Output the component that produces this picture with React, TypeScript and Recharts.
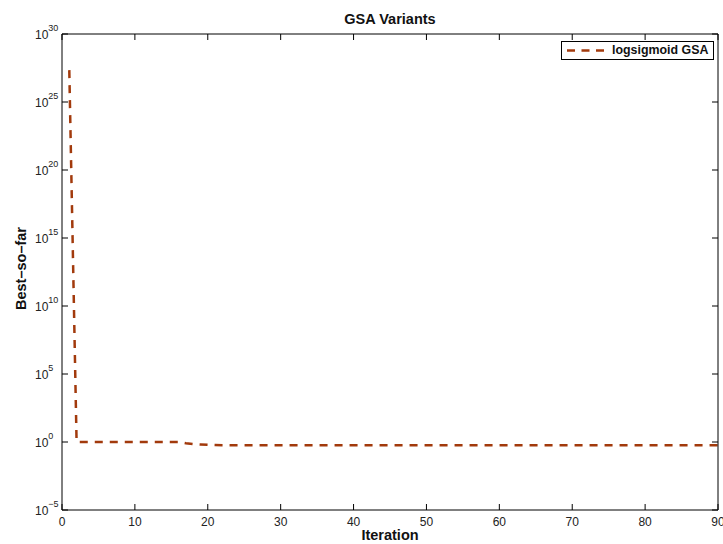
import { LineChart, Line, XAxis, YAxis } from 'recharts'

// best-so-far value at each iteration (iteration = index + 1)
const bestSoFar = [
  2.2e27, 1.02, 1.02, 1.02, 1.02, 1.02, 1.02, 1.02, 1.02, 1.02,
  1.02, 1.02, 1.02, 1.02, 1.02, 1.02, 0.8, 0.7, 0.66, 0.62,
  0.6, 0.58, 0.57, 0.57, 0.57, 0.57, 0.57, 0.57, 0.57, 0.57,
  0.57, 0.57, 0.57, 0.57, 0.57, 0.57, 0.57, 0.57, 0.57, 0.57,
  0.57, 0.57, 0.57, 0.57, 0.57, 0.57, 0.57, 0.57, 0.57, 0.57,
  0.57, 0.57, 0.57, 0.57, 0.57, 0.57, 0.57, 0.57, 0.57, 0.57,
  0.57, 0.57, 0.57, 0.57, 0.57, 0.57, 0.57, 0.57, 0.57, 0.57,
  0.57, 0.57, 0.57, 0.57, 0.57, 0.57, 0.57, 0.57, 0.57, 0.57,
  0.57, 0.57, 0.57, 0.57, 0.57, 0.57, 0.57, 0.57, 0.57, 0.57,
]
const xTicks = [0, 10, 20, 30, 40, 50, 60, 70, 80, 90]
const yTicks = [1e-5, 1, 1e5, 1e10, 1e15, 1e20, 1e25, 1e30]

const title = 'GSA Variants'
const xLabel = 'Iteration'
const yLabel = 'Best–so–far'
const seriesName = 'logsigmoid GSA'

const data = bestSoFar.map((v, i) => ({ iter: i + 1, best: v }))

const FONT = '"Liberation Sans", Arial, Helvetica, sans-serif'
const LINE_COLOR = '#a23a0c'

const BottomTick = ({ x, y, payload }: any) => (
  <g>
    <line x1={x} x2={x} y1={y} y2={y - 6} stroke="#000" />
    <text x={x} y={y + 16} textAnchor="middle" fontSize={12} fill="#222" fontFamily={FONT}>
      {payload.value}
    </text>
  </g>
)

const TopTick = ({ x, y }: any) => <line x1={x} x2={x} y1={y} y2={y + 6} stroke="#000" />

const LeftTick = ({ x, y, payload }: any) => {
  const exp = Math.round(Math.log10(payload.value))
  return (
    <g>
      <line x1={x} x2={x + 6} y1={y} y2={y} stroke="#000" />
      <text x={x - 27} y={y + 4.5} textAnchor="start" fontSize={12} fill="#222" fontFamily={FONT}>
        <tspan>10</tspan>
        <tspan dy={-8} fontSize={9}>{exp < 0 ? '\u2212' + Math.abs(exp) : exp}</tspan>
      </text>
    </g>
  )
}

const RightTick = ({ x, y }: any) => <line x1={x} x2={x - 6} y1={y} y2={y} stroke="#000" />

export default function App() {
  return (
    <div style={{ position: 'absolute', left: 0, top: 0, width: 723, height: 544, fontFamily: FONT }}>
      <LineChart width={723} height={544} data={data} margin={{ top: 33, right: 4, bottom: 33, left: 61 }}>
        <XAxis
          xAxisId="bottom" dataKey="iter" type="number" domain={[0, 90]} ticks={xTicks}
          height={1} tickSize={0} tickMargin={0} tickLine={false} tick={<BottomTick />}
          axisLine={{ stroke: '#000' }} interval={0}
        />
        <XAxis
          xAxisId="top" orientation="top" dataKey="iter" type="number" domain={[0, 90]} ticks={xTicks}
          height={1} tickSize={0} tickMargin={0} tickLine={false} tick={<TopTick />}
          axisLine={{ stroke: '#000' }} interval={0}
        />
        <YAxis
          yAxisId="left" scale="log" domain={[1e-5, 1e30]} ticks={yTicks} allowDataOverflow
          width={1} tickSize={0} tickMargin={0} tickLine={false} tick={<LeftTick />}
          axisLine={{ stroke: '#000' }} interval={0}
        />
        <YAxis
          yAxisId="right" orientation="right" scale="log" domain={[1e-5, 1e30]} ticks={yTicks} allowDataOverflow
          width={1} tickSize={0} tickMargin={0} tickLine={false} tick={<RightTick />}
          axisLine={{ stroke: '#000' }} interval={0}
        />
        <Line
          xAxisId="bottom" yAxisId="left" type="linear" dataKey="best" stroke={LINE_COLOR}
          strokeWidth={2.5} strokeDasharray="8 7" dot={false} isAnimationActive={false}
        />
      </LineChart>
      <div style={{ position: 'absolute', left: 62, width: 656, top: 11, lineHeight: '17px', textAlign: 'center', fontWeight: 'bold', fontSize: 14.5, color: '#111' }}>
        {title}
      </div>
      <div style={{ position: 'absolute', left: 62, width: 656, top: 527, lineHeight: '17px', textAlign: 'center', fontWeight: 'bold', fontSize: 14.5, color: '#111' }}>
        {xLabel}
      </div>
      <div style={{ position: 'absolute', left: 21 - 60, width: 120, top: 259.5, lineHeight: '17px', textAlign: 'center', fontWeight: 'bold', fontSize: 14.5, color: '#111', transform: 'rotate(-90deg)' }}>
        {yLabel}
      </div>
      <div style={{ position: 'absolute', left: 561, top: 41, width: 153, height: 19, border: '1px solid #000', background: '#fff', boxSizing: 'border-box' }}>
        <svg width={44} height={17} style={{ position: 'absolute', left: 0, top: 0 }}>
          <line x1={5} x2={42} y1={8.5} y2={8.5} stroke={LINE_COLOR} strokeWidth={2.5} strokeDasharray="8 6.5" />
        </svg>
        <span style={{ position: 'absolute', left: 50, top: 0, lineHeight: '17px', fontWeight: 'bold', fontSize: 12.4, color: '#111', whiteSpace: 'nowrap' }}>
          {seriesName}
        </span>
      </div>
    </div>
  )
}
